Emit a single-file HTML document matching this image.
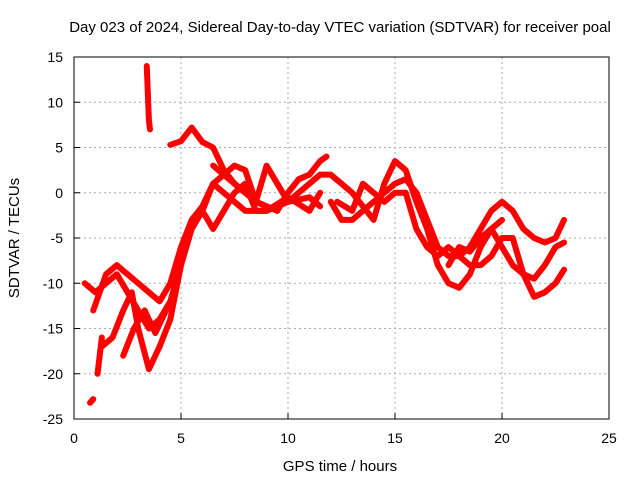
<!DOCTYPE html>
<html><head><meta charset="utf-8"><style>
body{margin:0;background:#fff}
svg{display:block;font-family:"Liberation Sans",sans-serif}
</style></head><body>
<svg id="chart" width="640" height="480">
<rect width="640" height="480" fill="#fff"/>
<text x="340" y="32" font-size="15" text-anchor="middle">Day 023 of 2024, Sidereal Day-to-day VTEC variation (SDTVAR) for receiver poal</text>
<text x="340" y="471" font-size="15" text-anchor="middle">GPS time / hours</text>
<text transform="translate(19,238) rotate(-90)" font-size="15" text-anchor="middle">SDTVAR / TECUs</text>
<g id="grid"></g><g id="ticks"></g><g id="series"></g>
<rect x="74" y="57" width="535" height="362" fill="none" stroke="#000"/>
</svg>
<script>
const xTicks=[0,5,10,15,20,25];
const yTicks=[15,10,5,0,-5,-10,-15,-20,-25];
const trackA=[[0.9,-13],[1.2,-11],[1.5,-9],[2,-8],[2.5,-9],[3,-10],[3.5,-11],[4,-12],[4.5,-10],[5,-6],[5.5,-3],[6,-1.5],[6.5,1],[7,0],[7.5,-1],[8,-2],[9,-2],[10,-1],[11,-0.5],[11.5,-1.5]];
const trackB=[[0.5,-10],[1,-11],[1.5,-10],[2,-9],[2.5,-11],[3,-13],[3.5,-15],[4,-14],[4.5,-12],[5,-8],[5.5,-4],[6,-2],[6.5,1],[7,2],[7.5,1],[8,0]];
const trackC=[[1.3,-17],[1.8,-16],[2.3,-13],[2.7,-11],[3,-15],[3.5,-19.5],[4,-17],[4.5,-14],[5,-8],[5.3,-5]];
const trackD=[[2.3,-18],[2.8,-15],[3.3,-13],[3.8,-15.5],[4.3,-13]];
const trackE=[[3.4,14],[3.45,11],[3.5,8],[3.55,7]];
const trackF=[[0.75,-23.2],[0.9,-22.8]];
const trackG=[[1.1,-20],[1.2,-18],[1.3,-16]];
const trackH=[[4.5,5.3],[5,5.7],[5.5,7.2],[6,5.6],[6.5,5],[7,2.5],[7.5,1],[8,0],[8.5,-1],[9,-1.5]];
const trackI=[[6.5,3],[7,2],[7.5,3],[8,2.5],[8.5,-1],[9,3],[9.5,1],[10,-1],[11,1],[11.5,2],[12,2],[12.5,1]];
const trackJ=[[6,-2],[6.5,-4],[7,-2],[7.5,0],[8,1],[8.5,-2],[9,-2],[10,-0.5],[11,-2],[11.5,0]];
const trackK=[[8.5,-1],[9,-1.5],[9.5,-2],[10,0],[10.5,1.5],[11,2],[11.5,3.5],[11.8,4]];
const trackL=[[12,-1],[12.5,-3],[13,-3],[13.5,-2],[14,-1],[14.5,0],[15,1],[15.5,1.5],[16,0],[16.5,-3],[17,-6],[17.5,-7],[18,-7],[18.5,-6],[19,-4],[19.5,-2],[20,-1],[20.5,-2],[21,-4],[21.5,-5],[22,-5.5],[22.5,-5],[22.9,-3]];
const trackM=[[12.5,1],[13,0],[13.5,-1.5],[14,-3],[14.5,1],[15,3.5],[15.5,2.5],[16,-1],[16.5,-4],[17,-8],[17.5,-10],[18,-10.5],[18.5,-9],[19,-6],[19.5,-4],[20,-6],[20.5,-8],[21,-9],[21.5,-9.5],[22,-8],[22.5,-6],[22.9,-5.5]];
const trackN=[[12.3,-1],[13,-2],[13.5,1],[14,0],[14.5,-1],[15,0],[15.5,0],[16,-4],[16.5,-6],[17,-7],[17.5,-6],[18,-7],[18.5,-8],[19,-8],[19.5,-7],[20,-5],[20.5,-5],[21,-9],[21.5,-11.5],[22,-11],[22.5,-10],[22.9,-8.5]];
const trackO=[[17.5,-8],[18,-6],[18.5,-6.5],[19,-5],[19.5,-4],[20,-3]];
const tracks=[trackA,trackB,trackC,trackD,trackE,trackF,trackG,trackH,trackI,trackJ,trackK,trackL,trackM,trackN,trackO];
const X=v=>74+v*535/25, Y=v=>57+(15-v)*362/40;
const NS="http://www.w3.org/2000/svg";
const mk=(t,a,p)=>{const e=document.createElementNS(NS,t);for(const k in a)e.setAttribute(k,a[k]);p.appendChild(e);return e;};
const g=document.getElementById('grid'),tk=document.getElementById('ticks'),s=document.getElementById('series');
xTicks.forEach(v=>{
 if(v>0&&v<25){const l=mk('line',{x1:X(v),x2:X(v),y1:57,y2:419,stroke:'#aaa','stroke-dasharray':'2,3'},g);
 
 }
 mk('line',{x1:X(v),x2:X(v),y1:419,y2:413,stroke:'#000'},tk);
 const t=mk('text',{x:X(v),y:443,'font-size':14,'text-anchor':'middle'},tk);t.textContent=v;
 
 
});
yTicks.forEach(v=>{
 if(v<15&&v>-25){const l=mk('line',{x1:74,x2:609,y1:Y(v),y2:Y(v),stroke:'#aaa','stroke-dasharray':'2,3'},g);
 
 }
 mk('line',{x1:74,x2:80,y1:Y(v),y2:Y(v),stroke:'#000'},tk);
 const t=mk('text',{x:63,y:Y(v)+5,'font-size':14,'text-anchor':'end'},tk);t.textContent=v;
 
 
});
tracks.forEach((tr,i)=>{
 const p=mk('polyline',{points:tr.map(q=>X(q[0])+','+Y(q[1])).join(' '),fill:'none',stroke:'#f00','stroke-width':6,'stroke-linejoin':'round','stroke-linecap':'round'},s);
 
 
});
</script>
</body></html>
